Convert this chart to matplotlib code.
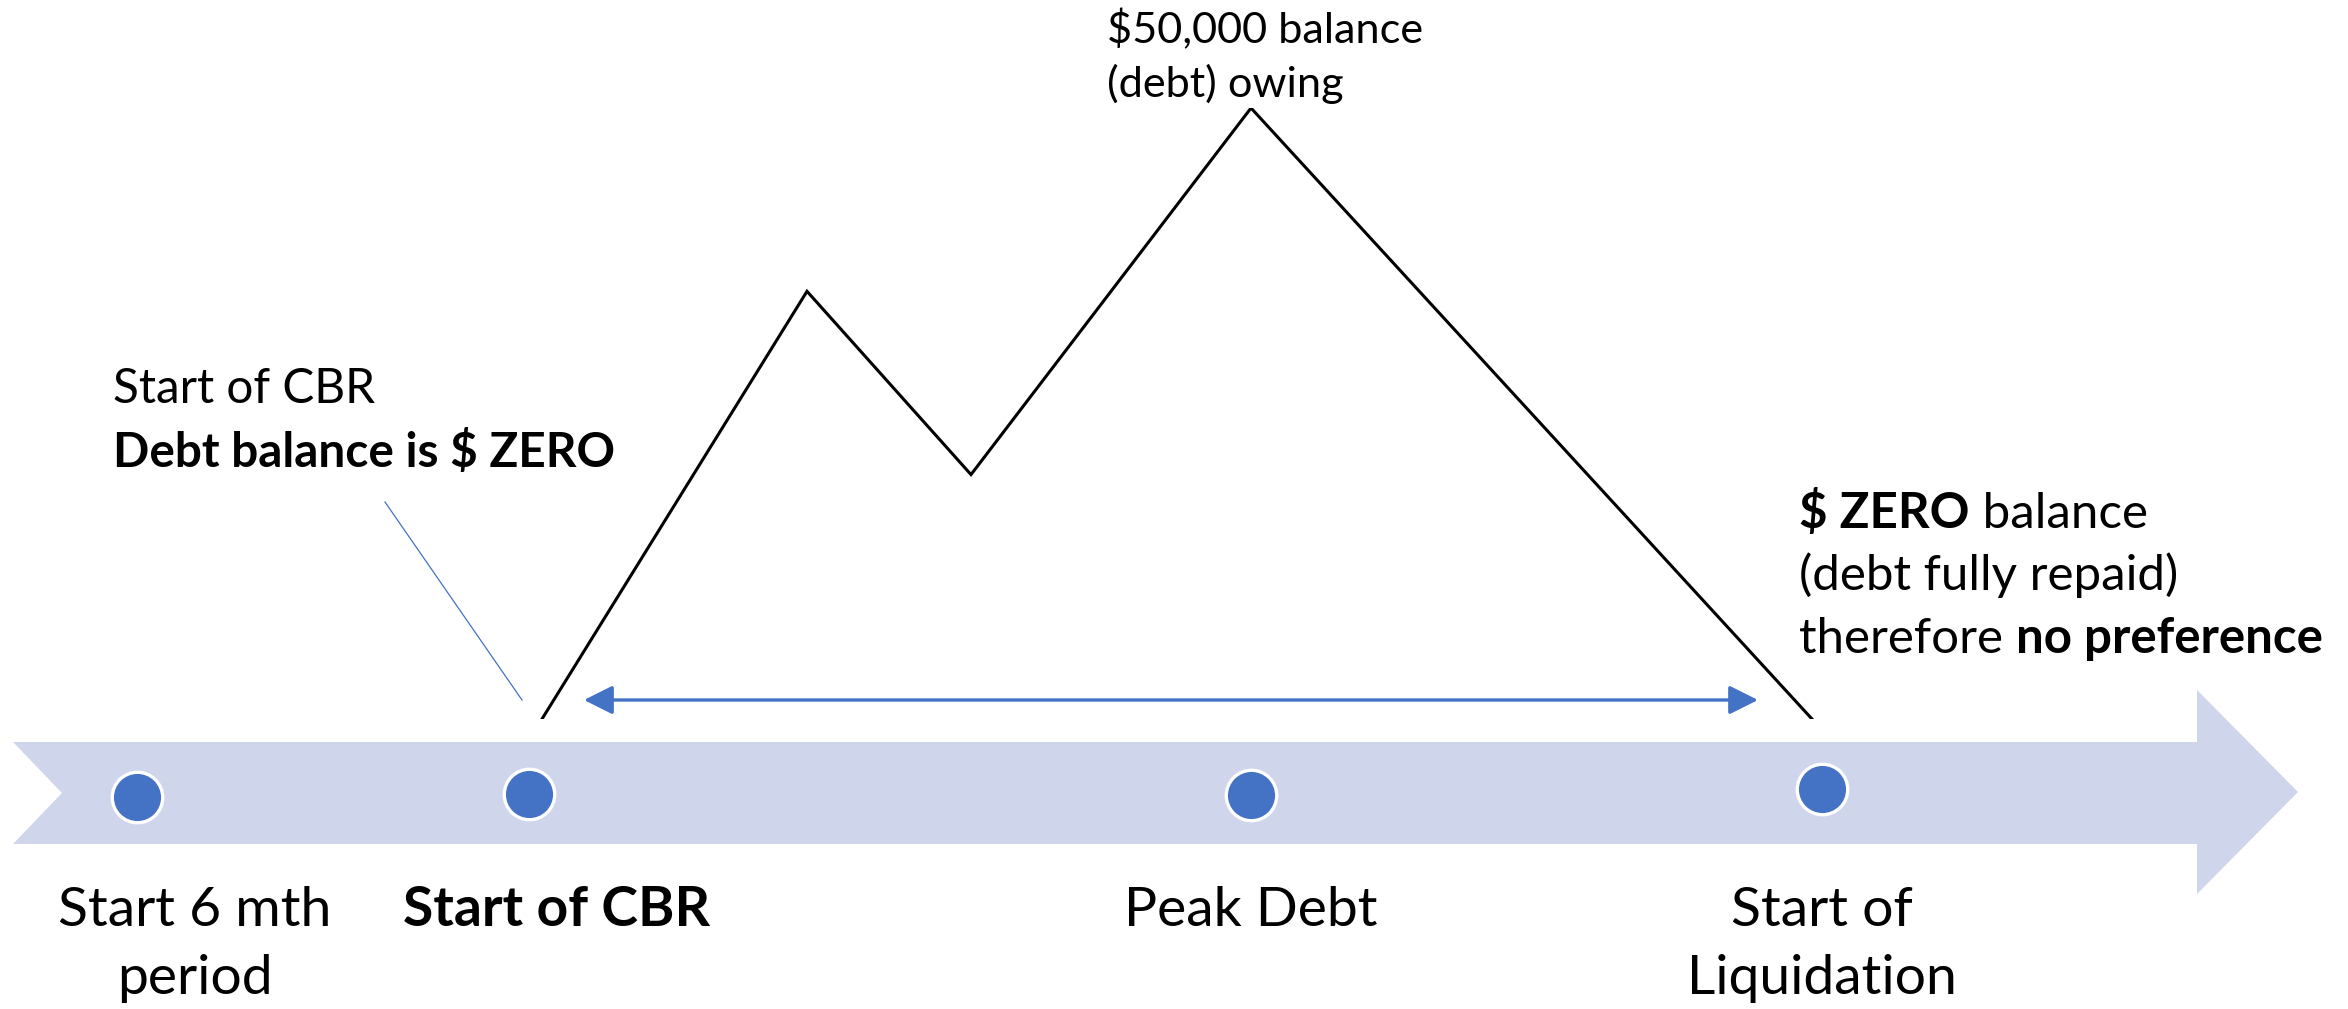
import matplotlib
matplotlib.use("Agg")
import matplotlib.pyplot as plt
from matplotlib.patches import Polygon

FONT = ["Lato", "DejaVu Sans"]
plt.rcParams['font.family'] = FONT

# ---------------- data ----------------
milestone_labels = ["Start 6 mth\nperiod", "Start of CBR", "Peak Debt", "Start of\nLiquidation"]
milestone_bold = [False, True, False, False]
milestone_x = [137, 529, 1251, 1822]
milestone_dot_y = [797, 794, 795, 789]
milestone_label_x = [195, 557, 1251, 1822]

debt_x = [542, 807, 971, 1251, 1812]
debt_value = [0, 35000, 20000, 50000, 0]
debt_peak = 50000

cbr_period = (584, 1758)

# ---------------- figure ----------------
W, H = 2348, 1009
fig = plt.figure(figsize=(W / 100, H / 100), dpi=100)
ax = fig.add_axes([0, 0, 1, 1])
ax.set_xlim(0, W)
ax.set_ylim(H, 0)
ax.axis('off')

zero_px, peak_px = 719, 108
ax2 = fig.add_axes([0, (H - zero_px) / H, 1, (zero_px - peak_px) / H])
ax2.set_xlim(0, W)
ax2.set_ylim(0, debt_peak)
ax2.axis('off')
ax2.patch.set_alpha(0)

BLUE = '#4472C4'
BAND = '#CFD5EA'

# timeline band arrow
band = Polygon([(13, 742), (2197, 742), (2197, 690), (2298, 792), (2197, 894),
                (2197, 844), (13, 844), (62, 793)], closed=True,
               facecolor=BAND, edgecolor='none', zorder=1)
ax.add_patch(band)

ax.scatter(milestone_x, milestone_dot_y, s=1320, color=BLUE, edgecolor='white',
           linewidth=2.4, zorder=3)

# debt line
ax2.plot(debt_x, debt_value, color='black', lw=2.2, solid_joinstyle='miter', zorder=4)

# double arrow
ax.annotate('', xy=(cbr_period[0], 700), xytext=(cbr_period[1], 700),
            arrowprops=dict(arrowstyle='<|-|>,head_length=0.8,head_width=0.4',
                            color=BLUE, lw=2.4, shrinkA=0, shrinkB=0,
                            mutation_scale=22), zorder=4)

# callout line
ax.plot([385, 522], [502, 700], color=BLUE, lw=0.9, zorder=4)

# ---------------- text helpers ----------------
renderer = fig.canvas.get_renderer()


def text_width(s, size, bold):
    t = fig.text(0, 0, s, fontsize=size, fontweight='bold' if bold else 'normal')
    w = t.get_window_extent(renderer).width
    t.remove()
    return w


def run_width(s, size, bold):
    return text_width(s + "|", size, bold) - text_width("|", size, bold)


def line_width(runs, size):
    return sum(run_width(r, size, b) for r, b in runs)


def fit_size(runs, target, base=40.0):
    return base * target / line_width(runs, base)


def draw_runs(x, y, runs, size, ha='left'):
    total = line_width(runs, size)
    if ha == 'center':
        x = x - total / 2
    for r, b in runs:
        ax.text(x, y, r, fontsize=size, fontweight='bold' if b else 'normal',
                va='baseline', ha='left', color='black', zorder=5)
        x += run_width(r, size, b)


# top-left annotation
tl_lines = [[("Start of CBR", False)], [("Debt balance is $ ZERO", True)]]
s_tl = fit_size(tl_lines[1], 503)
draw_runs(113, 403, tl_lines[0], s_tl)
draw_runs(113, 467, tl_lines[1], s_tl)

# peak annotation
pk_lines = [[("$50,000 balance", False)], [("(debt) owing", False)]]
s_pk = fit_size(pk_lines[0], 316)
draw_runs(1107, 43, pk_lines[0], s_pk)
draw_runs(1107, 97, pk_lines[1], s_pk)

# right annotation
rt_lines = [[("$ ZERO", True), (" balance", False)],
            [("(debt fully repaid)", False)],
            [("therefore ", False), ("no preference", True)]]
s_rt = fit_size(rt_lines[2], 523)
for ln, yb in zip(rt_lines, [528, 590, 653]):
    draw_runs(1799, yb, ln, s_rt)

# milestone labels
s_ms = 1.02 * fit_size([("Peak Debt", False)], 249)
for lab, bold, lx in zip(milestone_labels, milestone_bold, milestone_label_x):
    for i, part in enumerate(lab.split("\n")):
        draw_runs(lx, 926 + i * 68, [(part, bold)], s_ms, ha='center')

fig.savefig("out.png", dpi=100)
